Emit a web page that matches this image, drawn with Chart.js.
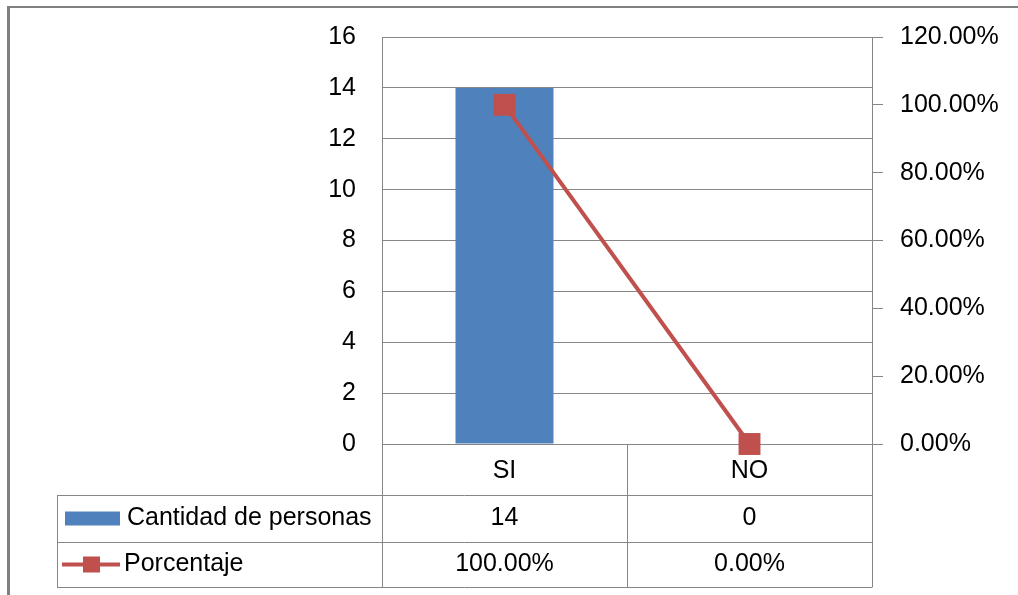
<!DOCTYPE html>
<html>
<head>
<meta charset="utf-8">
<script src="https://cdn.jsdelivr.net/npm/chart.js@4"></script>
<style>
  html, body { margin: 0; padding: 0; background: #fff; }
  canvas { display: block; }
</style>
</head>
<body>
<canvas id="c" width="1018" height="595"></canvas>
<script>
// Respuestas SI / NO
const categories = ['SI', 'NO'];
const cantidadPersonas = [14, 0];
const porcentaje = [1.0, 0.0];
const cantidadLabels = ['14', '0'];
const porcentajeLabels = ['100.00%', '0.00%'];
const pctTickLabels = ['0.00%', '20.00%', '40.00%', '60.00%', '80.00%', '100.00%', '120.00%'];
const seriesNames = ['Cantidad de personas', 'Porcentaje'];

const BLUE = '#4F81BD';
const RED = '#C0504D';
const GRID = '#868686';
const FONT = "'Liberation Sans', Arial, sans-serif";
const FONT_SIZE = 25;

// white page plus the outer chart frame
const framePlugin = {
  id: 'frame',
  beforeDraw(chart) {
    const ctx = chart.ctx;
    ctx.save();
    ctx.fillStyle = '#fff';
    ctx.fillRect(0, 0, chart.width, chart.height);
    ctx.strokeStyle = '#808080';
    ctx.lineWidth = 2;
    ctx.beginPath();
    ctx.moveTo(7, 7);
    ctx.lineTo(chart.width, 7);
    ctx.stroke();
    ctx.lineWidth = 3;
    ctx.beginPath();
    ctx.moveTo(8.5, 6);
    ctx.lineTo(8.5, chart.height);
    ctx.stroke();
    ctx.restore();
  }
};

// data table under the plot: category row, then one row per series
const dataTablePlugin = {
  id: 'dataTable',
  afterDraw(chart) {
    const ctx = chart.ctx;
    const area = chart.chartArea;
    const xs = chart.scales.x;
    const left = 57;
    const top = area.bottom;
    const rowBottoms = [top + 51, top + 98, top + 143];
    const bounds = [area.left];
    for (let i = 0; i < categories.length; i++) {
      bounds.push(xs.getPixelForValue(i) + (xs.getPixelForValue(1) - xs.getPixelForValue(0)) / 2);
    }
    bounds[bounds.length - 1] = area.right;

    ctx.save();
    ctx.strokeStyle = GRID;
    ctx.lineWidth = 1;
    ctx.beginPath();
    rowBottoms.forEach(y => {
      ctx.moveTo(left, Math.round(y) + 0.5);
      ctx.lineTo(area.right, Math.round(y) + 0.5);
    });
    ctx.moveTo(left + 0.5, rowBottoms[0]);
    ctx.lineTo(left + 0.5, rowBottoms[2] + 0.5);
    bounds.forEach(x => {
      const px = Math.round(x) + 0.5;
      ctx.moveTo(px, top);
      ctx.lineTo(px, rowBottoms[2] + 0.5);
    });
    ctx.stroke();

    ctx.fillStyle = '#000';
    ctx.font = FONT_SIZE + 'px ' + FONT;
    ctx.textAlign = 'center';
    ctx.textBaseline = 'middle';
    const rowMid = [
      (top + rowBottoms[0]) / 2 + 2,
      (rowBottoms[0] + rowBottoms[1]) / 2,
      (rowBottoms[1] + rowBottoms[2]) / 2
    ];
    categories.forEach((c, i) => {
      const cx = xs.getPixelForValue(i);
      ctx.fillText(c, cx, rowMid[0]);
      ctx.fillText(cantidadLabels[i], cx, rowMid[1]);
      ctx.fillText(porcentajeLabels[i], cx, rowMid[2]);
    });

    // legend keys
    ctx.fillStyle = BLUE;
    ctx.fillRect(65, rowMid[1] - 7, 55, 14);
    ctx.strokeStyle = RED;
    ctx.lineWidth = 4;
    ctx.beginPath();
    ctx.moveTo(62, rowMid[2]);
    ctx.lineTo(120, rowMid[2]);
    ctx.stroke();
    ctx.fillStyle = RED;
    ctx.fillRect(83, rowMid[2] - 8, 17, 16);

    ctx.fillStyle = '#000';
    ctx.textAlign = 'left';
    ctx.fillText(seriesNames[0], 127, rowMid[1]);
    ctx.fillText(seriesNames[1], 124, rowMid[2]);
    ctx.restore();
  }
};

// fixed axis sizes so the plot sits in the same box every time
function fixVertical(width) {
  return s => {
    s.width = width;
    s.paddingTop = 0;
    s.paddingBottom = 0;
  };
}

new Chart(document.getElementById('c'), {
  data: {
    labels: categories,
    datasets: [
      {
        type: 'line',
        label: seriesNames[1],
        data: porcentaje,
        yAxisID: 'y1',
        borderColor: RED,
        backgroundColor: RED,
        borderWidth: 4,
        pointStyle: 'rect',
        pointRadius: 15.5,
        pointHoverRadius: 15.5,
        pointBorderWidth: 0,
        clip: false,
        order: 0
      },
      {
        type: 'bar',
        label: seriesNames[0],
        data: cantidadPersonas,
        yAxisID: 'y',
        backgroundColor: BLUE,
        barPercentage: 0.4,
        categoryPercentage: 1,
        order: 1
      }
    ]
  },
  options: {
    responsive: false,
    animation: false,
    devicePixelRatio: 1,
    layout: { padding: { top: 37, left: 0, right: 0, bottom: 0 } },
    plugins: { legend: { display: false }, tooltip: { enabled: false } },
    scales: {
      x: {
        offset: true,
        grid: { display: false },
        border: { display: false },
        ticks: { display: false },
        afterFit(s) { s.height = 151; s.paddingLeft = 0; s.paddingRight = 0; }
      },
      y: {
        position: 'left',
        min: 0,
        max: 16,
        ticks: { stepSize: 2, padding: 26, color: '#000', font: { family: FONT, size: FONT_SIZE } },
        grid: { color: GRID, drawTicks: false },
        border: { color: GRID },
        afterFit: fixVertical(382)
      },
      y1: {
        position: 'right',
        min: 0,
        max: 1.2,
        ticks: {
          stepSize: 0.2,
          padding: 17,
          color: '#000',
          font: { family: FONT, size: FONT_SIZE },
          callback: (v, i) => pctTickLabels[i]
        },
        grid: { drawOnChartArea: false, tickLength: 11, color: GRID },
        border: { color: GRID },
        afterFit: fixVertical(146)
      }
    }
  },
  plugins: [framePlugin, dataTablePlugin]
});
</script>
</body>
</html>
